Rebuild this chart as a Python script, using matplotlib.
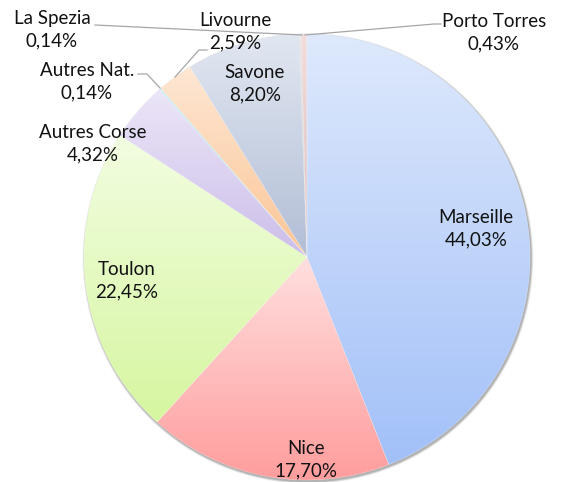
import numpy as np
import matplotlib
matplotlib.use("Agg")
import matplotlib.pyplot as plt
from matplotlib.colors import to_rgb
from matplotlib.patches import Circle

plt.rcParams['font.family'] = ['Lato', 'DejaVu Sans']

# data, clockwise from 12 o'clock
ports = ["Marseille", "Nice", "Toulon", "Autres Corse", "Autres Nat.",
         "Livourne", "Savone", "La Spezia", "Porto Torres"]
shares = [44.03, 17.70, 22.45, 4.32, 0.14, 2.59, 8.20, 0.14, 0.43]
pct_labels = ["44,03%", "17,70%", "22,45%", "4,32%", "0,14%",
              "2,59%", "8,20%", "0,14%", "0,43%"]

# gradient colours, top -> bottom of each slice
top_colors = ["#dee9fc", "#ffdfdf", "#f2fde1", "#ece6f8", "#d2f0f6",
              "#fee7d4", "#e1e7f1", "#e6e6e6", "#f2dede"]
bottom_colors = ["#a2c0f8", "#ff9c9c", "#d6f6a0", "#ccbee9", "#a0d8e8",
                 "#fbc595", "#b2bed6", "#c8c8c8", "#dcbcbc"]

W, H = 563, 482
cx, cy, r = 307, H - 257, 223

fig = plt.figure(figsize=(W / 100, H / 100), dpi=100)
ax = fig.add_axes([0, 0, 1, 1])
ax.axis("off")

# soft shadow
for k, a in [(4, 0.05), (3, 0.07), (2, 0.09), (1, 0.12)]:
    ax.add_patch(Circle((cx + 1, cy - 1.5), r + k * 0.6, color="black",
                        alpha=a, lw=0, zorder=0))

wedges, _ = ax.pie(shares, startangle=90, counterclock=False,
                   center=(cx, cy), radius=r, frame=True,
                   colors=bottom_colors, wedgeprops=dict(lw=0, zorder=1))

for w, c0, c1 in zip(wedges, top_colors, bottom_colors):
    v = w.get_path().vertices
    x0, x1 = v[:, 0].min(), v[:, 0].max()
    y0, y1 = v[:, 1].min(), v[:, 1].max()
    t = np.linspace(0, 1, 256)[:, None]
    grad = (1 - t) * np.array(to_rgb(c0)) + t * np.array(to_rgb(c1))
    im = ax.imshow(grad[:, None, :], extent=(x0, x1, y0, y1), origin="upper",
                   aspect="auto", interpolation="bilinear", zorder=2)
    im.set_clip_path(w)

# faint slice borders
ax.pie(shares, startangle=90, counterclock=False, center=(cx, cy), radius=r,
       frame=True, wedgeprops=dict(fc="none", ec="white", lw=0.3,
                                   alpha=0.5, zorder=3))

# data labels (pixel positions of the label centres)
label_pos = {
    "Marseille": (476, 229),
    "Nice": (306, 460),
    "Toulon": (127, 281),
    "Autres Corse": (93, 144),
    "Autres Nat.": (87, 82),
    "Livourne": (235, 32),
    "Savone": (255, 84),
    "La Spezia": (52, 30),
    "Porto Torres": (494, 33),
}
for name, pct in zip(ports, pct_labels):
    x, y = label_pos[name]
    ax.text(x, H - y, f"{name}\n{pct}", ha="center", va="center",
            fontsize=13.5, color="#111111", linespacing=1.4, zorder=5)

# leader lines
leaders = [
    [(95, 25), (302, 35)],
    [(207, 50), (199, 50), (175, 77)],
    [(138, 74), (147, 74), (160, 88)],
    [(441, 24), (434, 24), (305, 35)],
]
for pts in leaders:
    xs, ys = zip(*pts)
    ax.plot(xs, [H - y for y in ys], color="#a6a6a6", lw=0.9, zorder=4)

ax.set_xlim(0, W)
ax.set_ylim(0, H)
fig.savefig("out.png", dpi=100)
